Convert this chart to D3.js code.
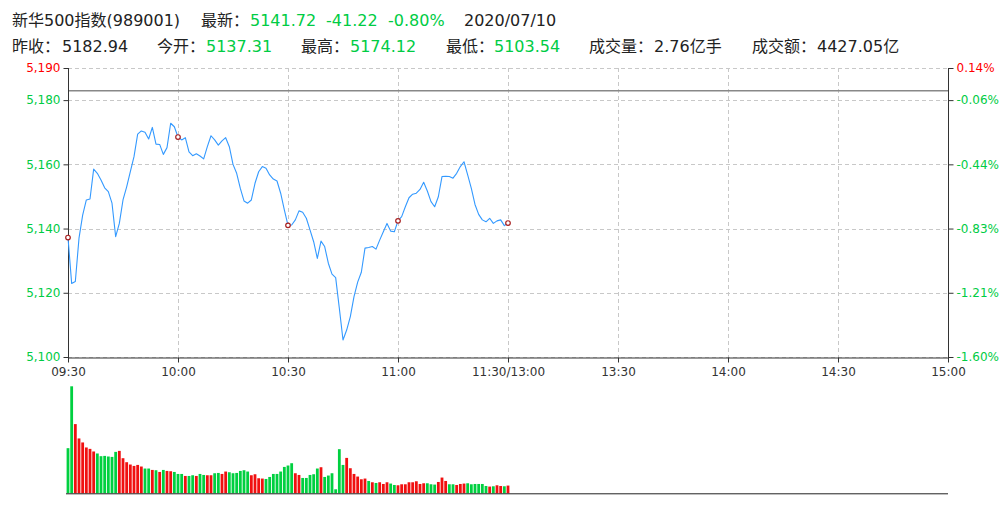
<!DOCTYPE html>
<html><head><meta charset="utf-8">
<script src="https://cdn.jsdelivr.net/npm/d3@7/dist/d3.min.js"></script>
<style>
html,body{margin:0;padding:0;background:#fff;}
svg{display:block;font-family:"DejaVu Sans","Noto Sans CJK SC",sans-serif;}
</style></head>
<body><svg id="c" width="1008" height="516"></svg>
<script>
const indexName = "新华500指数(989001)";
const tradeDate = "2020/07/10";
const preClose = 5182.94;
const lastPrice = 5141.72, change = -41.22, changePct = -0.80;
const openPrice = 5137.31, highPrice = 5174.12, lowPrice = 5103.54;
const volumeText = "2.76亿手", amountText = "4427.05亿";

const timeTickLabels = ["09:30","10:00","10:30","11:00","11:30/13:00","13:30","14:00","14:30","15:00"];
const timeTickMinutes = [0,30,60,90,120,150,180,210,240];
const priceTicks = [5100,5120,5140,5160,5180,5190];
const markerMinutes = [0,30,60,90,120];

// one value per minute 09:30 .. 11:30
const prices = [
5137.2,5122.9,5123.5,5137.0,5144.2,5148.9,5149.2,5158.5,5157.2,5155.1,
5152.7,5151.5,5147.9,5137.5,5141.6,5148.9,5153.0,5157.7,5162.4,5169.4,
5170.4,5170.0,5167.9,5171.5,5166.3,5166.2,5163.1,5165.2,5172.8,5171.7,
5168.5,5167.6,5168.3,5163.9,5162.7,5163.3,5162.6,5161.7,5165.5,5168.9,
5167.6,5166.0,5167.3,5168.3,5165.5,5160.0,5157.2,5152.5,5148.6,5147.9,
5148.9,5154.1,5157.7,5159.3,5158.8,5156.7,5155.4,5154.8,5151.0,5145.8,
5141.0,5141.1,5142.7,5145.5,5145.1,5143.2,5139.6,5135.9,5130.7,5136.1,
5134.4,5129.2,5125.8,5124.7,5115.2,5105.3,5108.4,5112.6,5118.8,5123.3,
5126.4,5133.9,5134.1,5134.4,5133.6,5136.4,5139.0,5141.6,5139.2,5139.0,
5142.4,5143.7,5146.8,5149.6,5150.7,5151.0,5152.2,5154.4,5151.7,5148.4,
5146.8,5149.9,5156.2,5156.3,5156.2,5155.7,5157.2,5159.3,5160.8,5156.7,
5152.5,5147.5,5144.4,5142.7,5142.1,5143.2,5141.6,5142.4,5142.7,5140.9,
5141.72];

// volume per minute (relative units), and direction (1 = up/red, 0 = down/green)
const volumes = [
45,106.7,69,54.7,50.7,45.7,44.3,41.7,39.7,37,
37.3,36.7,36.3,41.3,42.3,35,31,28.7,27.3,28.3,
26.7,24.7,24.7,23.3,23,21.3,23.3,22.3,22,21.3,
19.3,19.3,17.3,17.3,18,17.3,19.3,18.3,18,18,
20,20.3,19.3,21.7,21,20,20.3,22.3,23,21.7,
18,19,15,14.7,14.3,16.3,19.3,19.3,21.7,26.3,
27.7,30,20,18.3,15.3,15.3,18.3,19,24.7,26,
16.3,17.7,20,4,44,28.3,35.3,25,19.3,16.7,
14,14.7,12.3,11,10.3,11,9.3,11,9.7,8.3,
8,9,9,11,11,12,9.3,10,10,9,
8.7,11.3,15.7,12.3,9,9,8.3,9.3,9.7,10,
9,9.3,9.3,9.3,7.3,6.7,7,8,7.3,7,
7.7];
const volumeUp = [
0,0,1,1,1,1,1,1,0,0,
0,0,0,0,1,1,1,1,1,1,
1,0,0,1,0,1,0,1,1,0,
0,0,1,0,0,1,0,0,1,1,
0,0,1,1,0,0,0,0,0,0,
1,1,1,1,0,0,0,0,0,0,
0,0,1,1,0,0,0,0,0,1,
0,0,0,0,0,0,1,1,1,1,
1,1,0,1,0,1,1,1,0,0,
1,1,1,1,1,1,1,1,0,0,
0,1,1,1,0,0,1,1,1,0,
0,0,0,0,0,1,0,1,1,0,
1];

const RED = "#f01010", GREEN = "#00d040", TXTGREEN = "#00cc44", TXTRED = "#ff0000";

const svg = d3.select("#c");
const L = 68, R = 948, T = 68, B = 357;
const VT = 386.3, VB = 493.3;

const x = d3.scaleLinear().domain([0,240]).range([L,R]);
const y = d3.scaleLinear().domain([5100,5190]).range([B,T]);
const yv = d3.scaleLinear().domain([0, d3.max(volumes)]).range([VB,VT]);

// header
const hdr = svg.append("g").attr("font-size",16);
function txt(xp, yp, s, col){ hdr.append("text").attr("x",xp).attr("y",yp).attr("fill",col).text(s); }
const fmt2 = v => v.toFixed(2);
const chgCol = change < 0 ? TXTGREEN : TXTRED;
txt(12,26,indexName,"#222");
txt(201,26,"最新：","#222");
txt(250,26,fmt2(lastPrice),chgCol);
txt(326,26,fmt2(change),chgCol);
txt(388,26,fmt2(changePct)+"%",chgCol);
txt(464,26,tradeDate,"#222");
txt(12,52,"昨收：","#222");
txt(62,52,fmt2(preClose),"#222");
txt(157,52,"今开：","#222");
txt(206,52,fmt2(openPrice),openPrice<preClose?TXTGREEN:TXTRED);
txt(301,52,"最高：","#222");
txt(350,52,fmt2(highPrice),highPrice<preClose?TXTGREEN:TXTRED);
txt(446,52,"最低：","#222");
txt(494,52,fmt2(lowPrice),lowPrice<preClose?TXTGREEN:TXTRED);
txt(589,52,"成交量：","#222");
txt(654,52,volumeText,"#222");
txt(752,52,"成交额：","#222");
txt(817,52,amountText,"#222");

// grid
const grid = svg.append("g").attr("stroke","#c8c8c8").attr("stroke-dasharray","4,3").attr("stroke-width",1);
priceTicks.forEach(v=>{
  grid.append("line").attr("x1",L).attr("x2",R).attr("y1",Math.round(y(v))+0.5).attr("y2",Math.round(y(v))+0.5);
});
timeTickMinutes.slice(1,-1).forEach(m=>{
  grid.append("line").attr("x1",Math.round(x(m))+0.5).attr("x2",Math.round(x(m))+0.5).attr("y1",T).attr("y2",B);
});

// previous close line
svg.append("line").attr("x1",L).attr("x2",R).attr("y1",y(preClose)).attr("y2",y(preClose))
  .attr("stroke","#888").attr("stroke-width",1.5);

// axes
const pctFmt = v => ((v-preClose)/preClose*100).toFixed(2)+"%";
const axL = svg.append("g").attr("transform",`translate(${L+0.5},0)`)
  .call(d3.axisLeft(y).tickValues(priceTicks).tickFormat(d3.format(",")).tickSize(5).tickPadding(3));
const axR = svg.append("g").attr("transform",`translate(${R+0.5},0)`)
  .call(d3.axisRight(y).tickValues(priceTicks).tickFormat(pctFmt).tickSize(5).tickPadding(3));
const axB = svg.append("g").attr("transform",`translate(0,${B+0.5})`)
  .call(d3.axisBottom(x).tickValues(timeTickMinutes).tickFormat((d,i)=>timeTickLabels[i]).tickSize(5).tickPadding(5));
[axL,axR].forEach(a=>{
  a.selectAll("text").attr("font-size",12).attr("font-family","DejaVu Sans")
   .attr("fill",d=> d>preClose?TXTRED:TXTGREEN);
  a.selectAll(".tick line").attr("stroke","#333");
});
axL.select(".domain").remove(); axR.select(".domain").remove();
svg.append("line").attr("x1",L+0.5).attr("x2",L+0.5).attr("y1",T).attr("y2",B+1).attr("stroke","#333");
svg.append("line").attr("x1",R+0.5).attr("x2",R+0.5).attr("y1",T).attr("y2",B+1).attr("stroke","#333");
axB.select(".domain").attr("stroke","#333").attr("d",`M${L},0.5H${R+1}`);
axB.selectAll(".tick line").attr("stroke","#333");
axB.selectAll("text").attr("font-size",12).attr("font-family","DejaVu Sans").attr("fill","#333");

// price line
const line = d3.line().x((d,i)=>x(i)).y(d=>y(d)).curve(d3.curveLinear);
svg.append("path").datum(prices).attr("d",line).attr("fill","none")
  .attr("stroke","#3399ff").attr("stroke-width",1.1).attr("stroke-linejoin","round");

// markers
svg.append("g").selectAll("circle").data(markerMinutes).join("circle")
  .attr("cx",m=>x(m)).attr("cy",m=>y(prices[m])).attr("r",2.3)
  .attr("fill","#fff").attr("stroke","#a82020").attr("stroke-width",1.2);

// volume bars
svg.append("g").selectAll("rect").data(volumes).join("rect")
  .attr("x",(d,i)=>x(i)-1.4).attr("width",2.8)
  .attr("y",d=>yv(d)).attr("height",d=>VB-yv(d))
  .attr("fill",(d,i)=>volumeUp[i]?RED:GREEN);
svg.append("line").attr("x1",L-2).attr("x2",R).attr("y1",VB+0.5).attr("y2",VB+0.5).attr("stroke","#222");
</script></body></html>
